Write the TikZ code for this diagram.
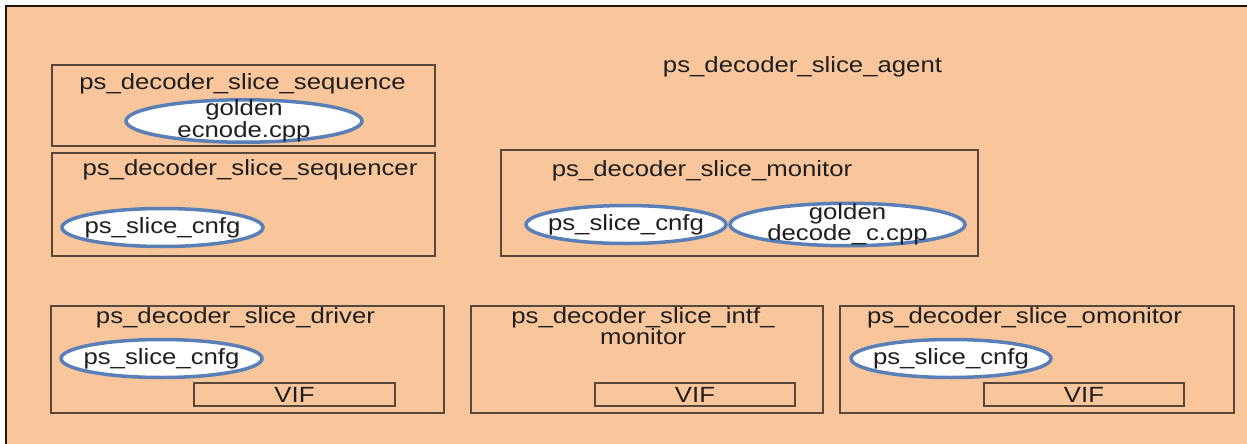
\documentclass[tikz,border=0pt]{standalone}
\usepackage{fontspec}
\setmainfont{Liberation Sans}[FakeStretch=1.17]
\usetikzlibrary{shapes.geometric}

\definecolor{peach}{RGB}{249,197,154}
\definecolor{boxline}{RGB}{88,72,58}
\definecolor{ovalblue}{RGB}{90,127,182}

\begin{document}
\begin{tikzpicture}[x=1pt,y=-1pt,font=\fontsize{22}{16}\selectfont,text=black!88]

      \useasboundingbox (0,0) rectangle (1247,444);
      \fill[peach] (6,6) rectangle (1247,444);
      \draw[line width=2,black!85!brown] (6,444) -- (6,6) -- (1247,6);

      \begin{scope}[every node/.style={draw=boxline,line width=1.6,inner sep=0}]
        \node[minimum width=383,minimum height=81]  (seq)  at (243.5,105.5) {};
        \node[minimum width=383,minimum height=103] (sqr)  at (243.5,204.5) {};
        \node[minimum width=477,minimum height=106] (mon)  at (739.5,203)   {};
        \node[minimum width=393,minimum height=107] (drv)  at (247.5,359.5) {};
        \node[minimum width=352,minimum height=107] (imon) at (647,359.5)   {};
        \node[minimum width=394,minimum height=107] (omon) at (1037,359.5)  {};
        \node[minimum width=201,minimum height=23]  (vif1) at (294.5,394.5) {VIF};
        \node[minimum width=200,minimum height=23]  (vif2) at (695,394.5)   {VIF};
        \node[minimum width=200,minimum height=23]  (vif3) at (1084,394.5)  {VIF};
      \end{scope}

      \begin{scope}[every node/.style={anchor=base}]
        \node (agentlbl) at (802.5,73)  {ps\_decoder\_slice\_agent};
        \node (seqlbl)   at (242.5,89)  {ps\_decoder\_slice\_sequence};
        \node (sqrlbl)   at (250,175)   {ps\_decoder\_slice\_sequencer};
        \node (monlbl)   at (702,176)   {ps\_decoder\_slice\_monitor};
        \node (drvlbl)   at (235.5,323) {ps\_decoder\_slice\_driver};
        \node (omonlbl)  at (1024.5,323) {ps\_decoder\_slice\_omonitor};
      \end{scope}
      \node[align=center] (imonlbl) at (643,326) {ps\_decoder\_slice\_intf\_\\monitor};

      \begin{scope}[every node/.style={ellipse,draw=ovalblue,fill=white,line width=3.5,
          inner xsep=-8,inner ysep=-6,minimum height=38,align=center}]
        \node[minimum width=236] (gold1) at (244,121)     {golden\\ecnode.cpp};
        \node[minimum width=201] (cfg1)  at (162.5,227.5) {ps\_slice\_cnfg};
        \node[minimum width=200] (cfg2)  at (626,224.5)   {ps\_slice\_cnfg};
        \node[minimum width=235] (gold2) at (847.5,224.5) {golden\\decode\_c.cpp};
        \node[minimum width=201] (cfg3)  at (161.5,358.5) {ps\_slice\_cnfg};
        \node[minimum width=200] (cfg4)  at (951,358.5)   {ps\_slice\_cnfg};
      \end{scope}

\end{tikzpicture}
\end{document}
